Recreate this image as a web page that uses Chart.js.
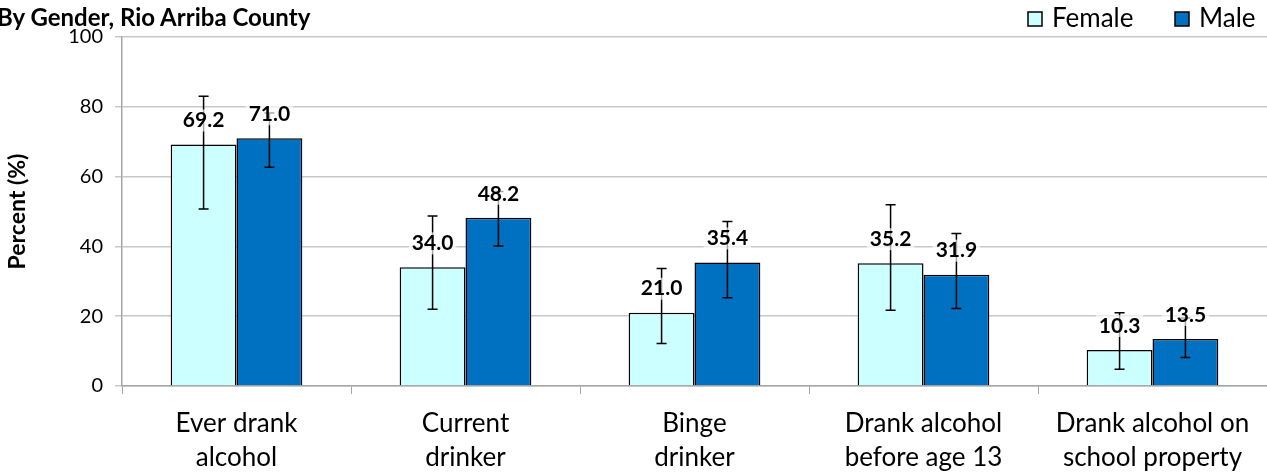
<!DOCTYPE html>
<html>
<head>
<meta charset="utf-8">
<script src="https://cdn.jsdelivr.net/npm/chart.js@4/dist/chart.umd.min.js"></script>
<style>
  html, body { margin: 0; padding: 0; background: #fff; }
  #wrap { position: relative; width: 1267px; height: 476px; overflow: hidden; }
  #title {
    position: absolute; left: -3px; top: 2px; line-height: 1;
    font: bold 24px Lato, sans-serif; color: #000;
  }
</style>
</head>
<body>
<div id="wrap">
  <canvas id="chart" width="1267" height="476"></canvas>
  <div id="title">By Gender, Rio Arriba County</div>
</div>
<script>
// categories and values
const categories = [
    ['Ever drank', 'alcohol'],
    ['Current', 'drinker'],
    ['Binge', 'drinker'],
    ['Drank alcohol', 'before age 13'],
    ['Drank alcohol on', 'school property']
];
const female = [69.2, 34.0, 21.0, 35.2, 10.3];
const male = [71.0, 48.2, 35.4, 31.9, 13.5];
// 95% confidence intervals (estimated)
const femaleLow = [50.7, 22.0, 12.2, 21.7, 4.8];
const femaleHigh = [83.0, 48.7, 33.7, 51.9, 21.0];
const maleLow = [62.7, 40.1, 25.3, 22.2, 8.2];
const maleHigh = [78.2, 55.7, 47.1, 43.7, 19.5];
const yTicks = [0, 20, 40, 60, 80, 100];

const FONT = 'Lato, sans-serif';

/**
 * Error bars with caps
 */
const errorBars = {
    id: 'errorBars',
    afterDatasetsDraw(chart) {
        const ctx = chart.ctx;
        const y = chart.scales.y;
        const ranges = [[femaleLow, femaleHigh], [maleLow, maleHigh]];
        ctx.save();
        ctx.strokeStyle = '#000';
        ctx.lineWidth = 1.5;
        ranges.forEach((r, di) => {
            chart.getDatasetMeta(di).data.forEach((bar, i) => {
                const x = bar.x;
                const top = y.getPixelForValue(r[1][i]);
                const bot = y.getPixelForValue(r[0][i]);
                ctx.beginPath();
                ctx.moveTo(x, top); ctx.lineTo(x, bot);
                ctx.moveTo(x - 5, top); ctx.lineTo(x + 5, top);
                ctx.moveTo(x - 5, bot); ctx.lineTo(x + 5, bot);
                ctx.stroke();
            });
        });
        ctx.restore();
    }
};

/**
 * Value labels above bars, on a faded white box
 */
const valueLabels = {
    id: 'valueLabels',
    afterDraw(chart) {
        const ctx = chart.ctx;
        ctx.save();
        ctx.font = 'bold 21px ' + FONT;
        ctx.textAlign = 'center';
        ctx.textBaseline = 'middle';
        chart.data.datasets.forEach((ds, di) => {
            chart.getDatasetMeta(di).data.forEach((bar, i) => {
                const text = ds.data[i].toFixed(1);
                const cy = bar.y - 24;
                const w = ctx.measureText(text).width + 6;
                ctx.fillStyle = 'rgba(255,255,255,0.65)';
                ctx.fillRect(bar.x - w / 2, cy - 11, w, 22);
                ctx.fillStyle = '#000';
                ctx.fillText(text, bar.x, cy);
            });
        });
        ctx.restore();
    }
};

/**
 * Legend drawn in the top right corner
 */
const topLegend = {
    id: 'topLegend',
    afterDraw(chart) {
        const ctx = chart.ctx;
        const starts = [1028, 1175];
        ctx.save();
        ctx.font = '26px ' + FONT;
        ctx.textBaseline = 'middle';
        chart.data.datasets.forEach((ds, di) => {
            const x = starts[di];
            ctx.fillStyle = ds.backgroundColor;
            ctx.fillRect(x, 12, 14, 14);
            ctx.strokeStyle = '#000';
            ctx.lineWidth = 1.5;
            ctx.strokeRect(x, 12, 14, 14);
            ctx.fillStyle = '#000';
            ctx.fillText(ds.label, x + 24, 19);
        });
        ctx.restore();
    }
};

const ctx = document.getElementById('chart').getContext('2d');
new Chart(ctx, {
    type: 'bar',
    data: {
        labels: categories,
        datasets: [{
            label: 'Female',
            data: female,
            backgroundColor: '#CCFFFF',
            borderColor: '#000',
            borderWidth: 1.5
        }, {
            label: 'Male',
            data: male,
            backgroundColor: '#0070C0',
            borderColor: '#000',
            borderWidth: 1.5
        }]
    },
    options: {
        responsive: false,
        animation: false,
        layout: { padding: { left: 0, right: -3, top: 37, bottom: 0 } },
        datasets: {
            bar: { categoryPercentage: 0.575, barPercentage: 1.0 }
        },
        plugins: {
            legend: { display: false },
            tooltip: { enabled: false }
        },
        scales: {
            x: {
                grid: {
                    drawOnChartArea: false,
                    drawTicks: true,
                    tickLength: 8,
                    color: '#A6A6A6'
                },
                border: { color: '#A6A6A6', width: 1.5 },
                ticks: {
                    color: '#000',
                    font: { family: FONT, size: 26, lineHeight: 1.31 },
                    maxRotation: 0,
                    autoSkip: false,
                    padding: 13
                },
                afterFit: (axis) => { axis.height = 90; }
            },
            y: {
                min: 0,
                max: 100,
                afterBuildTicks: (axis) => { axis.ticks = yTicks.map(v => ({ value: v })); },
                afterFit: (axis) => { axis.width = 122; },
                grid: {
                    color: '#C8C8C8',
                    lineWidth: 1.5,
                    tickLength: 7
                },
                border: { color: '#A6A6A6', width: 1.5 },
                ticks: {
                    color: '#000',
                    font: { family: FONT, size: 20 },
                    padding: 12
                },
                title: {
                    display: true,
                    text: 'Percent (%)',
                    color: '#000',
                    font: { family: FONT, size: 23, weight: 'bold' },
                    padding: { top: 4, bottom: 4 }
                }
            }
        }
    },
    plugins: [errorBars, valueLabels, topLegend]
});
</script>
</body>
</html>
